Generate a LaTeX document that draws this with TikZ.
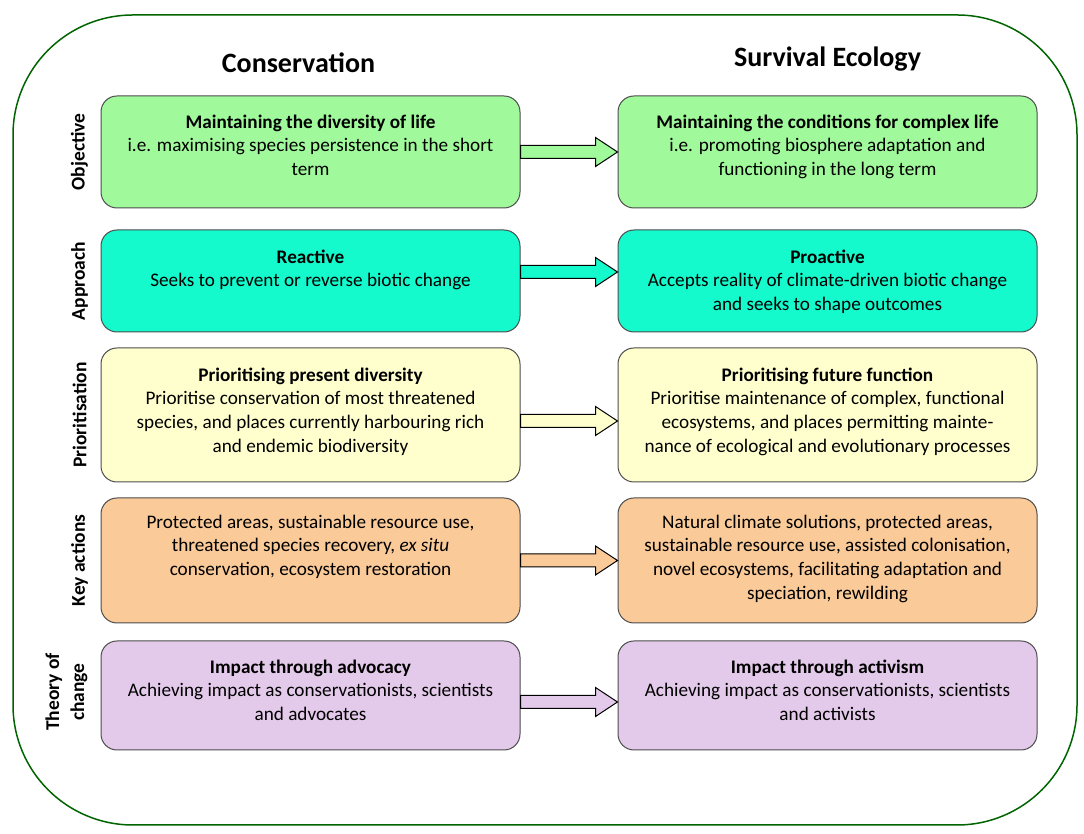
\documentclass[tikz,border=0pt]{standalone}
\usepackage{fontspec}
\setmainfont{Carlito}
\usetikzlibrary{positioning,calc}

\definecolor{objgreen}{RGB}{160,250,155}
\definecolor{apprcyan}{RGB}{20,250,205}
\definecolor{prioyellow}{RGB}{255,255,205}
\definecolor{keypeach}{RGB}{250,202,152}
\definecolor{theorylilac}{RGB}{228,202,234}
\definecolor{framegreen}{RGB}{0,100,0}

\tikzset{
	rowbox/.style={draw=black!70, line width=1pt, rounded corners=16pt, minimum width=419pt, inner sep=0pt},
	boxtext/.style={align=center, inner sep=0pt, font=\fontsize{19.2}{23.8}\selectfont},
	sidelabel/.style={rotate=90, align=center, font=\fontsize{19.5}{25}\selectfont\bfseries},
	heading/.style={anchor=base, font=\fontsize{28}{32}\selectfont\bfseries},
	fatarrow/.style={draw=black, line width=1pt, line join=miter},
}

% mũi tên to giữa hai ô: màu, ô trái, ô phải, độ lệch dọc
\newcommand{\rowarrow}[4]{%
	\draw[fatarrow, fill=#1]
	($(#2.east)+(0,#4+6.5)$) -- ($(#3.west)+(-22,#4+6.5)$) -- ($(#3.west)+(-22,#4+14.5)$)
	-- ($(#3.west)+(0,#4)$) -- ($(#3.west)+(-22,#4-14.5)$) -- ($(#3.west)+(-22,#4-6.5)$)
	-- ($(#2.east)+(0,#4-6.5)$) -- cycle;}

\begin{document}
\begin{tikzpicture}[x=1pt, y=1pt, line join=round]
	\useasboundingbox (0,0) rectangle (1084,834);
	
	% --- Khung ngoài ---
	\draw[framegreen, line width=1.5pt, rounded corners=120pt] (13,9) rectangle (1077,819);
	
	% --- Các ô ---
	% Hàng 1: Objective
	\node[rowbox, fill=objgreen, minimum height=112pt] (obj-c) at (310.5,682) {};
	\node[rowbox, fill=objgreen, minimum height=112pt] (obj-s) at (827.5,682) {};
	% Hàng 2: Approach
	\node[rowbox, fill=apprcyan, minimum height=102pt] (app-c) at (310.5,553) {};
	\node[rowbox, fill=apprcyan, minimum height=102pt] (app-s) at (827.5,553) {};
	% Hàng 3: Prioritisation
	\node[rowbox, fill=prioyellow, minimum height=134pt] (pri-c) at (310.5,419) {};
	\node[rowbox, fill=prioyellow, minimum height=134pt] (pri-s) at (827.5,419) {};
	% Hàng 4: Key actions
	\node[rowbox, fill=keypeach, minimum height=125pt] (key-c) at (310.5,273.5) {};
	\node[rowbox, fill=keypeach, minimum height=125pt] (key-s) at (827.5,273.5) {};
	% Hàng 5: Theory of change
	\node[rowbox, fill=theorylilac, minimum height=109pt] (thy-c) at (310.5,138.5) {};
	\node[rowbox, fill=theorylilac, minimum height=109pt] (thy-s) at (827.5,138.5) {};
	
	% --- Mũi tên ---
	\rowarrow{objgreen}{obj-c}{obj-s}{0}
	\rowarrow{apprcyan}{app-c}{app-s}{9}
	\rowarrow{prioyellow}{pri-c}{pri-s}{-6}
	\rowarrow{keypeach}{key-c}{key-s}{0}
	\rowarrow{theorylilac}{thy-c}{thy-s}{-6.5}
	
	% --- Tiêu đề cột ---
	\node[heading] (cons-head) at ([xshift=-12pt, yshift=23pt]obj-c.north) {Conservation};
	\node[heading] (surv-head) at ([yshift=29pt]obj-s.north) {Survival Ecology};
	
	% --- Nhãn hàng ---
	\node[sidelabel] (obj-lab) at ([xshift=-21pt]obj-c.west) {Objective};
	\node[sidelabel] (app-lab) at ([xshift=-21pt]app-c.west) {Approach};
	\node[sidelabel] (pri-lab) at ([xshift=-21pt]pri-c.west) {Prioritisation};
	\node[sidelabel] (key-lab) at ([xshift=-21pt]key-c.west) {Key actions};
	\node[sidelabel] (thy-lab) at ([xshift=-34pt, yshift=3.5pt]thy-c.west) {Theory of\\change};
	
	% --- Chữ trong ô ---
	\node[boxtext, below=19pt of obj-c.north] (obj-c-txt) {\textbf{Maintaining the diversity of life}\\i.e. maximising species persistence in the short\\term};
	\node[boxtext, below=19pt of obj-s.north] (obj-s-txt) {\textbf{Maintaining the conditions for complex life}\\i.e. promoting biosphere adaptation and\\functioning in the long term};
	\node[boxtext, below=20pt of app-c.north] (app-c-txt) {\textbf{Reactive}\\Seeks to prevent or reverse biotic change};
	\node[boxtext, below=20pt of app-s.north] (app-s-txt) {\textbf{Proactive}\\Accepts reality of climate-driven biotic change\\and seeks to shape outcomes};
	\node[boxtext, below=20pt of pri-c.north] (pri-c-txt) {\textbf{Prioritising present diversity}\\Prioritise conservation of most threatened\\species, and places currently harbouring rich\\and endemic biodiversity};
	\node[boxtext, below=20pt of pri-s.north] (pri-s-txt) {\textbf{Prioritising future function}\\Prioritise maintenance of complex, functional\\ecosystems, and places permitting mainte-\\nance of ecological and evolutionary processes};
	\node[boxtext, below=17pt of key-c.north] (key-c-txt) {Protected areas, sustainable resource use,\\threatened species recovery, \textit{ex situ}\\conservation, ecosystem restoration};
	\node[boxtext, below=17pt of key-s.north] (key-s-txt) {Natural climate solutions, protected areas,\\sustainable resource use, assisted colonisation,\\novel ecosystems, facilitating adaptation and\\speciation, rewilding};
	\node[boxtext, below=19pt of thy-c.north] (thy-c-txt) {\textbf{Impact through advocacy}\\Achieving impact as conservationists, scientists\\and advocates};
	\node[boxtext, below=19pt of thy-s.north] (thy-s-txt) {\textbf{Impact through activism}\\Achieving impact as conservationists, scientists\\and activists};
	
\end{tikzpicture}
\end{document}
